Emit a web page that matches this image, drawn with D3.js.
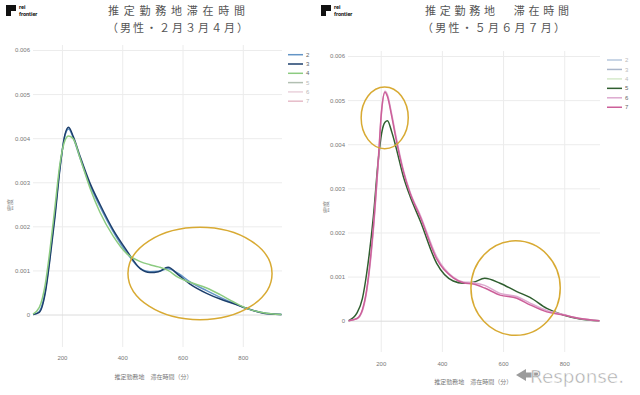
<!DOCTYPE html>
<html>
<head>
<meta charset="utf-8">
<script src="https://cdn.jsdelivr.net/npm/d3@7"></script>
<style>
  body { margin: 0; background: #fff; }
  svg { display: block; }
</style>
</head>
<body>
<div id="chart"></div>
<script>
// legend entries (month numbers)
const seriesNames = ['2', '3', '4', '5', '6', '7']
const yTicks = [0, 0.001, 0.002, 0.003, 0.004, 0.005, 0.006]
const xTicks = [200, 400, 600, 800]

// left panel: Feb / Mar / Apr  (minutes -> density)
const minutesA = [104, 125, 145, 160, 177, 193, 210, 222, 238, 260, 293, 326, 370, 415, 460, 492, 520, 552, 586, 625, 680, 725, 768, 812, 868, 928]
const month2 = [0, 0.00007, 0.00055, 0.0013, 0.0023, 0.00332, 0.00406, 0.00421, 0.004, 0.00355, 0.00293, 0.00245, 0.00188, 0.0014, 0.00104, 0.00097, 0.00098, 0.00104, 0.00093, 0.00074, 0.00054, 0.00039, 0.00026, 0.00014, 0.00004, 0]
const month3 = [0, 0.00005, 0.0005, 0.00124, 0.00222, 0.00328, 0.00408, 0.00425, 0.00403, 0.00359, 0.00298, 0.0025, 0.00192, 0.00145, 0.00104, 0.00095, 0.00097, 0.00107, 0.0009, 0.00069, 0.00048, 0.00035, 0.00025, 0.00014, 0.00003, 0]
const month4 = [0.00001, 0.00016, 0.0007, 0.00145, 0.00245, 0.0034, 0.00395, 0.00405, 0.00398, 0.00355, 0.00287, 0.00232, 0.00178, 0.00138, 0.0012, 0.00113, 0.00108, 0.001, 0.00084, 0.00073, 0.0006, 0.00045, 0.00029, 0.00014, 0.00004, 0]

// right panel: May / Jun / Jul
const minutesB = [95, 122, 140, 154, 176, 192, 203, 214, 222, 236, 250, 274, 296, 330, 383, 437, 470, 503, 540, 590, 645, 688, 743, 797, 852, 915]
const month5 = [0, 0.00017, 0.0005, 0.00107, 0.00236, 0.00364, 0.00425, 0.0045, 0.00453, 0.00428, 0.00393, 0.00327, 0.00282, 0.00225, 0.0013, 0.0009, 0.00085, 0.00087, 0.00096, 0.00085, 0.00066, 0.00053, 0.00028, 0.00013, 0.00004, 0]
const month6 = [0, 0.00004, 0.00022, 0.00066, 0.00205, 0.00358, 0.00475, 0.0052, 0.00512, 0.00468, 0.00418, 0.00342, 0.00292, 0.00238, 0.00145, 0.00099, 0.00088, 0.00086, 0.0008, 0.00062, 0.00055, 0.0004, 0.00023, 0.00014, 0.00005, 0]
const month7 = [0, 0.00005, 0.00025, 0.0007, 0.00213, 0.00364, 0.00478, 0.00518, 0.00508, 0.00463, 0.00412, 0.00338, 0.00289, 0.00234, 0.0014, 0.00097, 0.00086, 0.00083, 0.00074, 0.00058, 0.00051, 0.00036, 0.0002, 0.00013, 0.00005, 0]

// highlighted ellipses [minutes, density, rxMinutes, ryDensity]
const marksA = [[658, 0.00093, 239, 0.00105]]
const marksB = [[213, 0.0046, 77, 0.0007], [641, 0.00074, 146, 0.00107]]

const svg = d3.select('#chart').append('svg').attr('width', 640).attr('height', 395)
const jp = "'Noto Sans CJK JP', 'Noto Sans', sans-serif"

const panels = [
  {
    left: 33, right: 282, gridTop: 45, gridBottom: 347, zeroY: 314.5, topY: 50,
    xDomain: [104, 930], minutes: minutesA,
    series: [['2', month2], ['3', month3], ['4', month4]],
    colors: ['#6395c6', '#1d3f6c', '#8ccb80', '#b2bfb2', '#ead3dc', '#e6bcc9'],
    labelColors: ['#666', '#666', '#666', '#bbb', '#bbb', '#bbb'],
    legendX: 288, legendY: 54.7, legendDy: 9.3,
    title1: '推定勤務地滞在時間', title1X: 108, title1W: 137,
    title2: '（男性・２月３月４月）', title2X: 107, title2W: 141,
    xTitleX: 153.5, xTitleY: 378.5, yTitleX: 12, yTitleY: 205,
    tickPad: 9, marks: marksA, logoX: 6
  },
  {
    left: 348, right: 600, gridTop: 51, gridBottom: 352, zeroY: 320.7, topY: 56,
    xDomain: [93, 917], minutes: minutesB,
    series: [['5', month5], ['6', month6], ['7', month7]],
    colors: ['#b7c8de', '#aab6ca', '#d6eacb', '#2f5e2f', '#dda9cf', '#cc5f99'],
    labelColors: ['#bbb', '#bbb', '#bbb', '#666', '#666', '#666'],
    legendX: 607, legendY: 60, legendDy: 9.45,
    title1: '推定勤務地　滞在時間', title1X: 425, title1W: 144,
    title2: '（男性・５月６月７月）', title2X: 422, title2W: 143,
    xTitleX: 473.3, xTitleY: 383.5, yTitleX: 328, yTitleY: 207,
    tickPad: 9.5, marks: marksB, logoX: 321
  }
]

function drawLogo(x0) {
  const g = svg.append('g').attr('transform', `translate(${x0},5)`)
  g.append('path').attr('d', 'M0,0 H10 V6 H5 V11 H0 Z').attr('fill', '#111')
  g.append('text').attr('x', 13).attr('y', 4.3).text('rei')
    .style('font-family', 'Roboto, sans-serif').style('font-weight', 'bold').style('font-size', '5.5px').attr('fill', '#111')
  g.append('text').attr('x', 13).attr('y', 11.3).text('frontier')
    .style('font-family', 'Roboto, sans-serif').style('font-weight', 'bold').style('font-size', '5.5px').attr('fill', '#111')
}

function drawPanel(p) {
  const x = d3.scaleLinear().domain(p.xDomain).range([p.left, p.right])
  const y = d3.scaleLinear().domain([0, 0.006]).range([p.zeroY, p.topY])
  const g = svg.append('g')

  // vertical grid + x labels
  g.append('g')
    .attr('transform', `translate(0,${p.gridBottom})`)
    .call(d3.axisBottom(x).tickValues(xTicks).tickSize(-(p.gridBottom - p.gridTop)).tickPadding(p.tickPad))
    .call((a) => a.select('.domain').remove())
    .call((a) => a.selectAll('.tick line').attr('stroke', '#ececec'))
    .call((a) => a.selectAll('.tick text').attr('fill', '#777').style('font-size', '6px').style('font-family', 'Arial, sans-serif'))

  // horizontal grid + y labels
  g.append('g')
    .attr('transform', `translate(${p.left},0)`)
    .call(d3.axisLeft(y).tickValues(yTicks).tickSize(-(p.right - p.left)).tickPadding(3)
      .tickFormat((d) => (d === 0 ? '0' : d3.format('.3f')(d))))
    .call((a) => a.select('.domain').remove())
    .call((a) => a.selectAll('.tick line').attr('stroke', (d) => (d === 0 ? '#dcdcdc' : '#ececec')))
    .call((a) => a.selectAll('.tick text').attr('fill', '#777').style('font-size', '6px').style('font-family', 'Arial, sans-serif'))

  // density curves
  const line = d3.line()
    .x((d) => x(d[0]))
    .y((d) => y(d[1]))
    .curve(d3.curveMonotoneX)

  p.series.forEach(([name, vals]) => {
    const idx = seriesNames.indexOf(name)
    g.append('path')
      .datum(p.minutes.map((m, i) => [m, vals[i]]))
      .attr('d', line)
      .attr('fill', 'none')
      .attr('stroke', p.colors[idx])
      .attr('stroke-width', 1.5)
  })

  // ellipses
  g.selectAll('.mark')
    .data(p.marks)
    .join('ellipse')
    .attr('cx', (d) => x(d[0]))
    .attr('cy', (d) => y(d[1]))
    .attr('rx', (d) => x(d[0] + d[2]) - x(d[0]))
    .attr('ry', (d) => y(0) - y(d[3]))
    .attr('fill', 'none')
    .attr('stroke', '#d8aa33')
    .attr('stroke-width', 1.5)

  // legend
  const lg = g.append('g')
  seriesNames.forEach((name, i) => {
    const ly = p.legendY + i * p.legendDy
    lg.append('line').attr('x1', p.legendX).attr('x2', p.legendX + 15).attr('y1', ly).attr('y2', ly)
      .attr('stroke', p.colors[i]).attr('stroke-width', 1.5)
    lg.append('text').attr('x', p.legendX + 18).attr('y', ly).attr('dy', '0.35em').text(name)
      .attr('fill', p.labelColors[i]).style('font-size', '6px').style('font-family', 'Arial, sans-serif')
  })

  // titles
  g.append('text').attr('x', p.title1X).attr('y', 15).text(p.title1)
    .attr('textLength', p.title1W).attr('lengthAdjust', 'spacing')
    .attr('fill', '#555').style('font-size', '11px').style('font-family', jp)
  g.append('text').attr('x', p.title2X).attr('y', 32).text(p.title2)
    .attr('textLength', p.title2W).attr('lengthAdjust', 'spacing')
    .attr('fill', '#555').style('font-size', '11px').style('font-family', jp)

  // axis titles
  g.append('text').attr('x', p.xTitleX).attr('y', p.xTitleY).attr('text-anchor', 'middle')
    .text('推定勤務地　滞在時間（分）').attr('fill', '#777').style('font-size', '6px').style('font-family', jp)
  g.append('text').attr('transform', `translate(${p.yTitleX},${p.yTitleY}) rotate(-90)`).attr('text-anchor', 'middle')
    .text('密度').attr('fill', '#888').style('font-size', '6px').style('font-family', jp)

  drawLogo(p.logoX)
}

panels.forEach(drawPanel)

// watermark
const wm = svg.append('g').attr('opacity', 0.85)
wm.append('path').attr('d', 'M516,375 L526,369 L526,372.5 L538,372.5 L538,377.5 L526,377.5 L526,381 Z').attr('fill', '#8a8a8a')
wm.append('text').attr('x', 530).attr('y', 383).text('Response.')
  .attr('textLength', 94).attr('lengthAdjust', 'spacingAndGlyphs')
  .attr('fill', '#9a9a9a').attr('stroke', '#fff').attr('stroke-width', 0.5)
  .style('font-size', '17px').style('font-family', "'DejaVu Sans', sans-serif")
</script>
</body>
</html>
